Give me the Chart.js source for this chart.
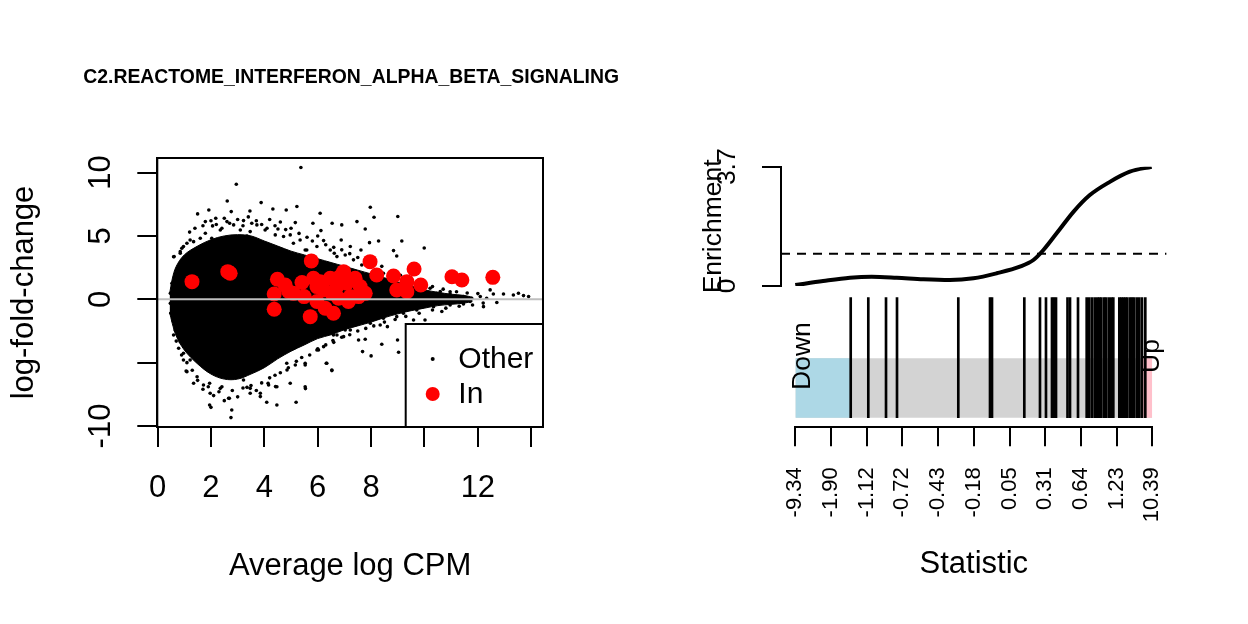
<!DOCTYPE html>
<html><head><meta charset="utf-8">
<script src="https://cdn.jsdelivr.net/npm/chart.js"></script>
<style>
html,body{margin:0;padding:0;background:#fff;width:1248px;height:624px;overflow:hidden}
canvas{position:absolute;left:0;top:0}
</style></head><body>
<canvas id="ma" width="1248" height="624"></canvas>
<canvas id="enr" width="1248" height="624"></canvas>
<canvas id="bar" width="1248" height="624"></canvas>
<script>
const FONT = "'Liberation Sans', Arial, Helvetica, sans-serif";

// ---------- MA plot data ----------
const mainTitle = 'C2.REACTOME_INTERFERON_ALPHA_BETA_SIGNALING';
const maXTitle = 'Average log CPM';
const maYTitle = 'log-fold-change';
const maXTicks = [0, 2, 4, 6, 8, 10, 12, 14];
const maXTickLabels = ['0', '2', '4', '6', '8', '', '12', ''];
const maYTicks = [-10, -5, 0, 5, 10];
const maYTickLabels = ['-10', '', '0', '5', '10'];
const legendLabels = ['Other', 'In'];

// dense core of the "Other" cloud (outline)
const cloudX     = [0.45, 0.55, 0.7, 1.0, 1.5, 2.0, 2.5, 3.0, 3.5, 4.0, 4.5, 5.0, 5.5, 6.0, 6.5, 7.0, 7.5, 8.0, 8.5, 9.0, 9.5, 10.0, 10.5, 11.0, 11.5, 11.8];
const cloudUpper = [0.4, 1.6, 2.6, 3.5, 4.2, 4.7, 5.0, 5.1, 5.0, 4.6, 4.2, 3.8, 3.5, 3.2, 2.9, 2.6, 2.3, 2.0, 1.7, 1.35, 1.05, 0.75, 0.55, 0.4, 0.3, 0.15];
const cloudLower = [-1.0, -1.9, -2.9, -4.0, -5.1, -5.9, -6.3, -6.3, -5.9, -5.4, -4.7, -4.1, -3.6, -3.1, -2.8, -2.4, -2.1, -1.8, -1.45, -1.15, -0.9, -0.7, -0.5, -0.4, -0.3, -0.15];

// scattered "Other" genes outside the dense core [logCPM, logFC]
const otherPoints = [
 [5.37,10.4],[2.95,9.08],[2.61,7.76],[1.92,7.05],[1.50,6.74],[2.76,6.92],[3.46,6.97],[3.88,7.63],[4.32,7.13],[4.82,7.05],
 [5.22,7.32],[6.09,6.79],[7.97,7.26],[8.11,6.47],[9.0,6.53],[7.47,6.13],[6.9,5.87],[6.54,6.0],[5.82,6.0],[2.18,6.39],
 [1.79,6.13],[3.22,6.21],[3.53,6.0],[4.51,5.55],[5.16,6.05],[6.12,5.42],[7.78,5.55],[6.88,4.68],[6.22,4.63],[7.94,4.47],
 [8.28,4.6],[9.15,4.6],[9.99,4.05],[8.96,3.42],[8.84,3.84],[7.62,3.89],[7.22,4.16],[2.06,5.79],[2.41,5.6],[4.03,5.47],
 [2.6,6.13],[2.95,4.82],[3.35,5.0],[1.22,4.68],[0.97,4.16],[0.62,3.37],[0.85,3.76],[5.53,3.89],[6.62,3.63],
 [10.46,0.47],[10.96,0.6],[11.46,0.21],[11.71,-0.18],[12.09,0.21],[12.21,-0.58],[12.46,0.74],[12.58,0.42],[12.71,-0.26],[12.96,0.42],
 [13.33,0.34],[13.52,0.47],[13.71,0.29],[13.9,0.21],[12.33,0.08],[11.77,0.08],[11.15,-0.18],[10.65,-0.97],[10.02,-1.63],[9.59,-1.63],
 [8.96,-1.37],[8.65,-1.1],[8.34,-2.03],[8.61,-2.16],
 [7.53,-3.21],[7.78,-3.16],[8.4,-3.55],[8.99,-3.21],[9.03,-4.18],[8.0,-4.47],[7.68,-4.13],[6.57,-3.26],[6.22,-3.74],[6.03,-4.0],
 [6.32,-5.05],[6.53,-5.63],[5.53,-5.05],[5.54,-7.05],[5.19,-8.13],[4.47,-8.34],[4.09,-8.13],[4.42,-6.89],[4.14,-6.63],[3.47,-7.42],
 [3.35,-6.95],[2.78,-8.74],[2.75,-9.34],[2.69,-7.82],[1.95,-8.34],[2.0,-8.53],[1.72,-6.76],[1.95,-6.63],[2.35,-7.03],[1.07,-5.66],
 [0.97,-4.79],[0.79,-3.87],[0.6,-2.82],[0.6,-1.76],[1.35,-6.63],[4.97,-6.63],[4.84,-5.05],[3.85,-7.68],
 [0.6,-1.77],[0.66,-2.42],[0.85,-3.35],[0.97,-4.26],[1.1,-5.71],[1.22,-4.79],[1.48,-6.11],[1.97,-7.42],[2.41,-6.9],[2.66,-7.81],
 [2.85,-6.11],[3.22,-6.37],[3.47,-7.03],[3.85,-7.42],[4.16,-6.76],[4.47,-6.9],[4.85,-5.58],[5.16,-5.19],[5.53,-5.19],[5.97,-4.0],
 [6.34,-5.05],[6.53,-5.58],[6.72,-2.82],[7.03,-2.42],[5.53,-6.9],
 [0.6,3.36],[0.85,3.63],[0.97,2.57],[0.54,1.26],[0.48,0.47],[0.48,-0.32],[0.5,-1.1],
 [0.91,4.03],[1.1,4.42],[1.35,4.55],[1.6,4.82],[1.79,5.21],[2.03,4.82],[2.35,5.47],[2.85,5.87],[3.1,5.47],[3.47,5.34],
 [3.72,5.87],[4.1,5.6],[4.41,5.08],[4.72,4.95],[4.97,5.08],[5.09,4.42],[5.34,4.68],[5.59,3.89],[5.97,4.16],[6.47,3.89],
 [6.72,3.37],[7.03,3.5],[7.34,3.11],[7.65,2.71],[7.97,2.58],[8.46,2.05],[8.71,1.79],[9.21,1.53],[9.71,1.26],[10.21,0.87],
 [10.59,0.61],[10.96,0.42],
 [7.97,-1.89],[8.46,-1.5],[9.21,-1.1],[9.71,-0.84],[10.34,-0.58],[10.96,-0.45],[11.46,-0.37],[7.22,-2.42],[6.97,-2.95],[6.59,-2.82],
 [1.2,5.3],[1.4,5.6],[1.7,5.8],[2.0,6.2],[2.2,5.9],[2.5,6.4],[2.7,6.0],[3.0,6.3],[3.2,5.8],[3.4,6.5],
 [3.7,6.2],[3.9,5.9],[4.2,6.3],[4.4,5.8],[4.6,6.1],[4.8,5.5],[5.0,5.6],[5.3,5.2],[5.6,4.9],[5.8,4.6],
 [6.0,5.0],[6.3,4.3],[6.6,4.1],[6.9,3.9],[7.2,3.6],[7.5,3.3],[7.8,3.1],[8.1,2.9],[8.4,2.6],[8.8,2.2],
 [9.1,1.9],[9.5,1.6],[9.9,1.2],[10.3,1.0],[10.7,0.8],[11.2,0.6],[11.6,0.5],[12.0,0.45],
 [0.7,-3.3],[0.9,-4.4],[1.1,-5.0],[1.3,-5.6],[1.5,-6.4],[1.7,-7.1],[1.9,-6.9],[2.1,-7.6],[2.3,-7.3],[2.5,-8.0],
 [2.8,-7.2],[3.0,-7.7],[3.2,-7.0],[3.5,-6.8],[3.7,-7.2],[3.9,-6.6],[4.2,-6.2],[4.4,-6.0],[4.6,-5.8],[4.9,-5.4],
 [5.2,-4.9],[5.4,-4.6],[5.7,-4.4],[6.0,-3.9],[6.3,-3.6],[6.6,-3.4],[6.9,-3.0],[7.2,-2.8],[7.5,-2.5],[7.8,-2.3],
 [8.1,-2.1],[8.5,-1.8],[8.9,-1.6],[9.3,-1.35],[9.8,-1.1],[10.3,-0.85],[10.8,-0.7],[11.3,-0.55],[11.8,-0.45],[12.2,-0.3]
];

// genes in the set [logCPM, logFC]
const inPoints = [
 [1.29,1.39],[2.63,2.18],[2.72,2.05],[5.76,3.03],[4.49,1.58],[4.78,1.13],[4.91,0.61],[4.37,0.42],[4.37,-0.79],[5.41,1.32],
 [5.84,1.66],[5.49,0.21],[5.72,-1.37],[5.97,-0.18],[6.22,0.74],[6.47,1.66],[6.53,0.47],[6.28,-0.71],[6.59,-1.1],[6.97,2.18],
 [7.09,1.26],[7.22,0.21],[7.15,-0.18],[7.40,1.66],[7.59,1.0],[7.78,0.47],[6.72,1.0],[6.78,0.08],[7.96,2.97],[8.21,1.92],
 [8.84,1.84],[8.96,0.73],[9.34,1.39],[9.34,0.6],[9.61,2.39],[9.86,1.13],[11.03,1.78],[11.4,1.52],[12.56,1.73],[5.09,0.47],
 [6.09,1.39],[7.53,0.21],[6.84,1.79],[5.97,1.0]
];

// ---------- barcode plot data ----------
const statTitle = 'Statistic';
const enrTitle = 'Enrichment';
const statTickPos = [0, 0.1, 0.2, 0.3, 0.4, 0.5, 0.6, 0.7, 0.8, 0.9, 1];
const statTickLabels = ['-9.34', '-1.90', '-1.12', '-0.72', '-0.43', '-0.18', '0.05', '0.31', '0.64', '1.23', '10.39'];
const setRanks = [0.1552, 0.2045, 0.2541, 0.2849, 0.4566, 0.5454, 0.5510, 0.6415, 0.6854, 0.7022,
 0.7190, 0.7246, 0.7303, 0.7625, 0.7695, 0.7919, 0.8162, 0.8235, 0.8311, 0.8387,
 0.8459, 0.8515, 0.8571, 0.8647, 0.8703, 0.8779, 0.8852, 0.8908, 0.9076, 0.9132,
 0.9188, 0.9244, 0.9300, 0.9375, 0.9431, 0.9487, 0.9563, 0.9636, 0.9712, 0.9804];
const downEnd = 0.155;
const upStart = 0.970;
const enrRank  = [0, 0.078, 0.153, 0.214, 0.284, 0.359, 0.433, 0.499, 0.564, 0.629, 0.667, 0.695, 0.732, 0.779, 0.825, 0.881, 0.937, 0.998];
const enrValue = [0.03, 0.155, 0.257, 0.288, 0.257, 0.208, 0.186, 0.239, 0.394, 0.60, 0.806, 1.116, 1.633, 2.30, 2.82, 3.23, 3.545, 3.70];
const enrTicks = [0, 3.7];
const enrTickLabels = ['0', '3.7'];
const enrRef = 1;
const sideLabels = ['Down', 'Up'];

// ---------- common ----------
Chart.defaults.font.family = FONT;
Chart.defaults.color = '#000';
Chart.defaults.animation = false;

const tickGrid = (len) => ({drawOnChartArea: false, drawTicks: true, tickLength: len, tickColor: '#000', tickWidth: 2, color: '#000', lineWidth: 2});
const axisBorder = {display: true, color: '#000', width: 2};

const frameBox = {
  id: 'frameBox',
  afterDatasetsDraw(chart) {
    const {ctx, chartArea: a} = chart;
    ctx.save();
    ctx.strokeStyle = '#000'; ctx.lineWidth = 2;
    ctx.strokeRect(a.left, a.top, a.right - a.left, a.bottom - a.top);
    ctx.restore();
  }
};
const maTitle = {
  id: 'maTitle',
  afterDraw(chart) {
    const {ctx, chartArea: a} = chart;
    ctx.save();
    ctx.fillStyle = '#000'; ctx.font = 'bold 19.4px ' + FONT; ctx.textAlign = 'center'; ctx.textBaseline = 'middle';
    ctx.fillText(mainTitle, (a.left + a.right) / 2 + 1, a.top - 80);
    ctx.restore();
  }
};
const maLegend = {
  id: 'maLegend',
  afterDatasetsDraw(chart) {
    const {ctx, chartArea: a} = chart;
    const w = 137.3, h = 103;
    const L = a.right - w, T = a.bottom - h;
    ctx.save();
    ctx.fillStyle = '#fff'; ctx.fillRect(L, T, w, h);
    ctx.strokeStyle = '#000'; ctx.lineWidth = 2; ctx.strokeRect(L, T, w, h);
    ctx.fillStyle = '#000'; ctx.beginPath(); ctx.arc(L + 27, T + 35, 2, 0, 2 * Math.PI); ctx.fill();
    ctx.fillStyle = '#ff0000'; ctx.beginPath(); ctx.arc(L + 27, T + 70, 7, 0, 2 * Math.PI); ctx.fill();
    ctx.fillStyle = '#000'; ctx.font = '30px ' + FONT; ctx.textBaseline = 'middle'; ctx.textAlign = 'left';
    ctx.fillText(legendLabels[0], L + 52.6, T + 36);
    ctx.fillText(legendLabels[1], L + 52.6, T + 71);
    ctx.restore();
  }
};

// ---------- MA chart ----------
new Chart(document.getElementById('ma'), {
  type: 'scatter',
  data: {
    datasets: [
      {type: 'line', data: cloudX.map((x, i) => ({x, y: cloudUpper[i]})), borderColor: '#000', borderWidth: 1, backgroundColor: '#000',
       pointRadius: 0, tension: 0.35, fill: '+1', order: 6},
      {type: 'line', data: cloudX.map((x, i) => ({x, y: cloudLower[i]})), borderColor: '#000', borderWidth: 1, backgroundColor: '#000',
       pointRadius: 0, tension: 0.35, fill: false, order: 6},
      {data: otherPoints.map(p => ({x: p[0], y: p[1]})), backgroundColor: '#000', borderWidth: 0, pointRadius: 1.8, order: 5},
      {data: inPoints.map(p => ({x: p[0], y: p[1]})), backgroundColor: '#ff0000', borderWidth: 0, pointRadius: 7.5, order: 3},
      {type: 'line', data: [{x: -0.01, y: 0}, {x: 14.44, y: 0}], borderColor: '#bebebe', borderWidth: 2, pointRadius: 0, fill: false, order: 1}
    ]
  },
  options: {
    responsive: false, devicePixelRatio: 1,
    layout: {padding: {left: 0, top: 158, right: 705, bottom: 37}},
    plugins: {legend: {display: false}, tooltip: {enabled: false}, title: {display: false}},
    scales: {
      x: {type: 'linear', min: -0.01, max: 14.44,
        afterBuildTicks: s => { s.ticks = maXTicks.map(v => ({value: v})); },
        afterFit: s => { s.height = 160; },
        ticks: {autoSkip: false, maxRotation: 0, minRotation: 0, padding: 23, font: {size: 31}, color: '#000',
          callback: (v, i) => maXTickLabels[i]},
        grid: tickGrid(20), border: axisBorder,
        title: {display: true, text: maXTitle, font: {size: 31}, color: '#000', padding: {top: 0, bottom: 2}}
      },
      y: {type: 'linear', min: -10.08, max: 11.15,
        afterBuildTicks: s => { s.ticks = maYTicks.map(v => ({value: v})); },
        afterFit: s => { s.width = 157.3; },
        ticks: {autoSkip: false, minRotation: 90, maxRotation: 90, crossAlign: 'center', padding: 13, font: {size: 31}, color: '#000',
          callback: (v, i) => maYTickLabels[i]},
        grid: tickGrid(20), border: axisBorder,
        title: {display: true, text: maYTitle, font: {size: 31}, color: '#000', padding: {top: 6, bottom: 0}}
      }
    }
  },
  plugins: [frameBox, maLegend, maTitle]
});

// ---------- Enrichment chart ----------
new Chart(document.getElementById('enr'), {
  type: 'line',
  data: {
    datasets: [
      {data: [{x: -0.04, y: enrRef}, {x: 1.04, y: enrRef}], borderColor: '#000', borderWidth: 2, borderDash: [9, 7], pointRadius: 0, fill: false, order: 2},
      {data: enrRank.map((x, i) => ({x, y: enrValue[i]})), borderColor: '#000', borderWidth: 4, pointRadius: 0, fill: false,
       cubicInterpolationMode: 'monotone', order: 1}
    ]
  },
  options: {
    responsive: false, devicePixelRatio: 1,
    layout: {padding: {left: 681, top: 166.7, right: 81.4, bottom: 338}},
    plugins: {legend: {display: false}, tooltip: {enabled: false}},
    scales: {
      x: {type: 'linear', min: -0.04, max: 1.04, display: false},
      y: {type: 'linear', min: 0, max: 3.7,
        afterBuildTicks: s => { s.ticks = enrTicks.map(v => ({value: v})); },
        afterFit: s => { s.width = 100; },
        ticks: {autoSkip: false, minRotation: 90, maxRotation: 90, crossAlign: 'center', padding: 15.6, font: {size: 26.5}, color: '#000',
          callback: (v, i) => enrTickLabels[i]},
        grid: tickGrid(19), border: axisBorder,
        title: {display: true, text: enrTitle, font: {size: 26.5}, color: '#000', padding: {top: 17, bottom: 0}}
      }
    }
  }
});

// ---------- Barcode chart ----------
const RECT_LO = 0.074, RECT_HI = 0.531, LINE_HI = 1.0;
const sideText = {
  id: 'sideText',
  afterDatasetsDraw(chart) {
    const {ctx} = chart; const xs = chart.scales.x, ys = chart.scales.y;
    ctx.save();
    ctx.fillStyle = '#000'; ctx.font = '26.5px ' + FONT; ctx.textAlign = 'center'; ctx.textBaseline = 'middle';
    const pos = [[0.022, 0.548], [0.997, 0.548]];
    sideLabels.forEach((t, i) => {
      ctx.save();
      ctx.translate(xs.getPixelForValue(pos[i][0]), ys.getPixelForValue(pos[i][1]));
      ctx.rotate(-Math.PI / 2);
      ctx.fillText(t, 0, 0);
      ctx.restore();
    });
    ctx.restore();
  }
};
new Chart(document.getElementById('bar'), {
  type: 'line',
  data: {
    datasets: [
      {data: [{x: 0, y: RECT_HI}, {x: 1, y: RECT_HI}], borderWidth: 0, pointRadius: 0, backgroundColor: '#d3d3d3', fill: {value: RECT_LO}, order: 5},
      {data: [{x: 0, y: RECT_HI}, {x: downEnd, y: RECT_HI}], borderWidth: 0, pointRadius: 0, backgroundColor: '#add8e6', fill: {value: RECT_LO}, order: 4},
      {data: [{x: upStart, y: RECT_HI}, {x: 1, y: RECT_HI}], borderWidth: 0, pointRadius: 0, backgroundColor: '#ffc0cb', fill: {value: RECT_LO}, order: 4},
      {type: 'bar', data: setRanks.map(r => ({x: r, y: [RECT_LO, LINE_HI]})), backgroundColor: '#000', borderWidth: 0, barThickness: 2, grouped: false, order: 1}
    ]
  },
  options: {
    responsive: false, devicePixelRatio: 1,
    layout: {padding: {left: 795.3, top: 297.3, right: 95.7, bottom: 36.7}},
    plugins: {legend: {display: false}, tooltip: {enabled: false}},
    scales: {
      x: {type: 'linear', min: 0, max: 1, offset: false,
        afterBuildTicks: s => { s.ticks = statTickPos.map(v => ({value: v})); },
        afterFit: s => { s.height = 160; },
        ticks: {autoSkip: false, minRotation: 90, maxRotation: 90, padding: 21, font: {size: 22}, color: '#000',
          callback: (v, i) => statTickLabels[i]},
        grid: Object.assign(tickGrid(19), {offset: false}), border: axisBorder,
        title: {display: true, text: statTitle, font: {size: 31}, color: '#000', padding: {top: 0, bottom: 4}}
      },
      y: {type: 'linear', min: 0, max: 1, display: false}
    }
  },
  plugins: [sideText]
});
</script>
</body></html>
